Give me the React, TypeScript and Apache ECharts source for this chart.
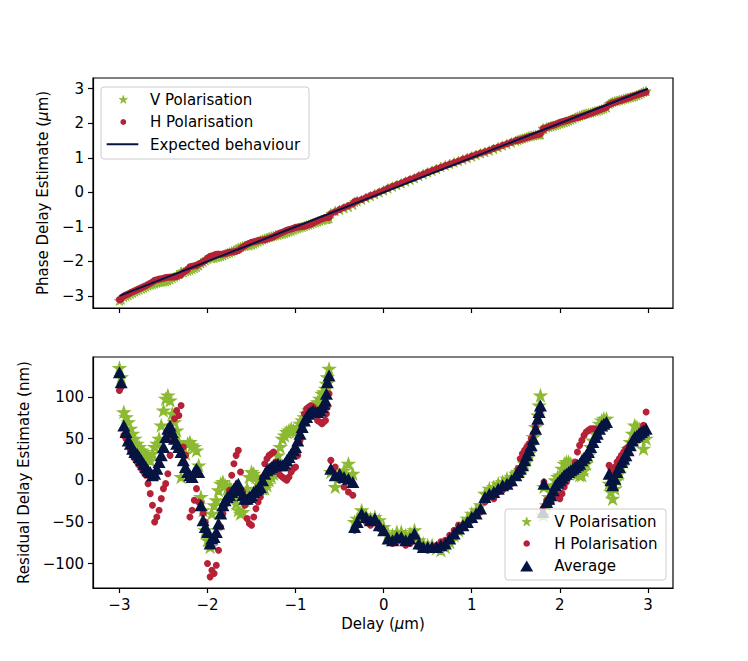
import React, { useEffect, useRef } from "react";
import * as echarts from "echarts";

// ---- Data ----
const delays = [
  -3.0, -2.98, -2.95, -2.925, -2.9, -2.875, -2.85, -2.825, -2.8, -2.775,
  -2.75, -2.725, -2.7, -2.675, -2.65, -2.625, -2.6, -2.575, -2.55, -2.525,
  -2.5, -2.475, -2.45, -2.425, -2.4, -2.375, -2.35, -2.325, -2.3, -2.275,
  -2.25, -2.225, -2.2, -2.175, -2.15, -2.125, -2.1, -2.075, -2.05, -2.025,
  -2.0, -1.97, -1.95, -1.925, -1.9, -1.875, -1.85, -1.825, -1.8, -1.775,
  -1.75, -1.725, -1.7, -1.675, -1.65, -1.625, -1.6, -1.575, -1.55, -1.525,
  -1.5, -1.475, -1.45, -1.425, -1.4, -1.375, -1.35, -1.325, -1.3, -1.275,
  -1.25, -1.225, -1.2, -1.175, -1.15, -1.125, -1.1, -1.075, -1.05, -1.025,
  -1.0, -0.975, -0.95, -0.925, -0.9, -0.875, -0.85, -0.825, -0.8, -0.775,
  -0.75, -0.725, -0.7, -0.68, -0.66, -0.65, -0.64, -0.62, -0.6, -0.55,
  -0.5, -0.45, -0.4, -0.35, -0.33, -0.3, -0.25, -0.2, -0.15, -0.1,
  -0.05, 0.0, 0.05, 0.1, 0.15, 0.2, 0.25, 0.3, 0.35, 0.4,
  0.45, 0.5, 0.55, 0.6, 0.65, 0.7, 0.75, 0.8, 0.85, 0.9,
  0.95, 1.0, 1.05, 1.1, 1.15, 1.2, 1.25, 1.3, 1.35, 1.4,
  1.45, 1.5, 1.525, 1.55, 1.575, 1.6, 1.625, 1.65, 1.675, 1.7,
  1.725, 1.75, 1.765, 1.78, 1.81, 1.82, 1.85, 1.875, 1.9, 1.925,
  1.95, 1.975, 2.0, 2.025, 2.05, 2.075, 2.1, 2.125, 2.15, 2.175,
  2.2, 2.225, 2.25, 2.275, 2.3, 2.325, 2.35, 2.375, 2.4, 2.425,
  2.45, 2.475, 2.5, 2.53, 2.56, 2.58, 2.6, 2.625, 2.65, 2.675,
  2.7, 2.725, 2.75, 2.775, 2.8, 2.825, 2.85, 2.875, 2.9, 2.925,
  2.95, 2.98,
];

const avgResidual = [
  130, 118, 66, 58, 48, 44, 38, 34, 32, 28,
  24, 20, 16, 12, 10, 6, 8, 14, 22, 30,
  40, 52, 62, 66, 58, 50, 44, 40, 34, 24,
  16, 10, 6, 4, 10, 14, 10, -30, -48, -56,
  -62, -76, -70, -68, -62, -52, -40, -30, -24, -20,
  -18, -14, -10, -6, -4, -12, -18, -22, -22, -20,
  -18, -14, -12, -10, -8, 0, 8, 12, 14, 16,
  18, 18, 20, 18, 18, 20, 24, 28, 32, 36,
  40, 48, 56, 64, 72, 76, 80, 82, 84, 82,
  82, 84, 88, 92, 96, 104, 118, 126, 14, 6,
  8, 4, 2, -2, -56, -50, -40, -44, -48, -46,
  -54, -60, -70, -72, -68, -68, -72, -70, -64, -76,
  -80, -80, -80, -80, -78, -76, -70, -64, -58, -54,
  -50, -44, -40, -34, -20, -16, -14, -10, -6, -4,
  0, 6, 10, 14, 18, 24, 30, 36, 42, 50,
  62, 74, 82, 90, -38, -4, -26, -22, -18, -12,
  -6, -3, 0, 3, 6, 8, 10, 12, 14, 16,
  18, 20, 24, 27, 30, 34, 40, 46, 52, 56,
  62, 66, 68, 70, 8, 0, -6, 2, 10, 16,
  22, 26, 30, 36, 42, 48, 52, 54, 56, 58,
  60, 62,
];

const vResidual = [
  135, 124, 82, 76, 70, 62, 56, 50, 44, 40,
  36, 34, 30, 26, 24, 32, 40, 44, 50, 66,
  84, 98, 102, 96, 80, 70, 60, 46, 4, 40,
  32, 44, 46, 42, 40, 36, 18, -20, -36, -60,
  -72, -80, -40, -30, -24, -12, -4, -2, -6, -10,
  -8, -12, -20, -28, -36, -40, -38, -24, -10, 4,
  10, 8, 4, 0, -6, -10, -10, -6, 0, 4,
  8, 18, 30, 40, 50, 54, 58, 60, 62, 60,
  58, 64, 68, 72, 76, 80, 84, 84, 86, 90,
  94, 98, 104, 106, 110, 116, 124, 134, 10, -8,
  4, 12, 20, 8, -50, -46, -36, -42, -46, -44,
  -48, -56, -64, -66, -62, -62, -66, -64, -60, -72,
  -76, -78, -78, -82, -84, -80, -74, -66, -60, -52,
  -46, -40, -36, -30, -16, -10, -8, -4, -2, 2,
  4, 8, 10, 12, 16, 20, 26, 32, 42, 52,
  64, 78, 90, 102, -42, -8, -30, -20, -12, -6,
  0, 4, 6, 14, 20, 22, 22, 20, 18, 12,
  8, 6, 6, 12, 20, 30, 40, 48, 56, 62,
  68, 72, 74, 74, -4, -14, -22, -10, 0, 8,
  16, 22, 30, 38, 46, 56, 66, 64, 62, 50,
  38, 50,
];

const hResidual = [
  108, 112, 54, 50, 44, 36, 30, 26, 22, 18,
  14, 10, 6, -4, -16, -30, -50, -44, -36, -22,
  -10, -4, 8, 30, 50, 74, 84, 78, 90, 40,
  30, 6, -44, -36, -24, -10, -26, -28, -40, -50,
  -100, -116, -108, -112, -102, -84, -56, -40, -30, -22,
  -12, 6, 20, 30, 36, 10, -14, -30, -46, -52,
  -54, -44, -34, -26, -20, 4, 20, 26, 30, 32,
  34, 22, 10, 6, 4, 2, 0, 4, 10, 14,
  16, 30, 48, 64, 80, 86, 88, 90, 88, 80,
  72, 70, 68, 70, 72, 80, 88, 104, 24, 16,
  0, -8, -14, -18, -60, -52, -44, -50, -54, -50,
  -58, -62, -72, -76, -74, -72, -78, -76, -68, -80,
  -82, -84, -82, -78, -74, -72, -66, -60, -54, -56,
  -52, -48, -42, -38, -26, -20, -22, -14, -12, -8,
  -4, 4, 14, 26, 32, 36, 40, 44, 50, 56,
  64, 72, 78, 84, -34, -2, -24, -26, -26, -20,
  -14, -18, -22, -16, -8, -2, 4, 8, 10, 22,
  34, 42, 48, 54, 58, 60, 62, 62, 62, 60,
  58, 62, 66, 68, 18, 14, 10, 16, 22, 26,
  30, 34, 38, 40, 44, 46, 48, 52, 56, 60,
  66, 82,
];

const expectedX = [-3, 3];
const xTicks = [-3, -2, -1, 0, 1, 2, 3];
const phaseTicks = [-3, -2, -1, 0, 1, 2, 3];
const residualTicks = [-100, -50, 0, 50, 100];

// ---- Styles ----
const GREEN = "#8cba32";
const RED = "#b52238";
const NAVY = "#061442";
const FONT = "DejaVu Sans";
const FS = 15;

const STAR =
  "path://M0,-1L0.2245,-0.309L0.9511,-0.309L0.3633,0.118L0.5878,0.809L0,0.382L-0.5878,0.809L-0.3633,0.118L-0.9511,-0.309L-0.2245,-0.309Z";

function starPoints(cx: number, cy: number, r: number): number[][] {
  const pts: number[][] = [];
  for (let k = 0; k < 10; k++) {
    const ang = ((90 + k * 36) * Math.PI) / 180;
    const rr = k % 2 === 0 ? r : r * 0.382;
    pts.push([cx + rr * Math.cos(ang), cy - rr * Math.sin(ang)]);
  }
  return pts;
}

const minus = (v: number) => String(v).replace("-", "\u2212");

function legendText(x: number, y: number, text: string) {
  return {
    type: "text",
    x,
    y,
    z: 101,
    style: {
      text,
      fill: "#000",
      fontSize: FS,
      fontFamily: FONT,
      align: "left",
      verticalAlign: "middle",
    },
  };
}

export default function App() {
  const ref = useRef<HTMLDivElement>(null);

  useEffect(() => {
    if (!ref.current) return;
    const chart = echarts.init(ref.current, undefined, { renderer: "svg" });

    const vTop = delays.map((d, i) => [d, d - vResidual[i] / 1000]);
    const hTop = delays.map((d, i) => [d, d - hResidual[i] / 1000]);
    const vBot = delays.map((d, i) => [d, vResidual[i]]);
    const hBot = delays.map((d, i) => [d, hResidual[i]]);
    const aBot = delays.map((d, i) => [d, avgResidual[i]]);

    const axisCommon = {
      type: "value",
      splitLine: { show: false },
      axisLine: { show: true, onZero: false, lineStyle: { color: "#000", width: 1.2 } },
      axisTick: { show: true, length: 5, lineStyle: { color: "#000", width: 1.2 } },
    };

    const labelCommon = {
      color: "#000",
      fontSize: FS,
      fontFamily: FONT,
      margin: 9,
      formatter: minus,
    };

    const gridBase = {
      left: 93,
      width: 580,
      show: true,
      borderColor: "#000",
      borderWidth: 1.2,
      backgroundColor: "transparent",
    };

    const italicRich = {
      i: { fontStyle: "italic", fontSize: FS, fontFamily: FONT, color: "#000" },
    };

    chart.setOption({
      animation: false,
      textStyle: { fontFamily: FONT },
      grid: [
        { ...gridBase, top: 78, height: 230 },
        { ...gridBase, top: 357, height: 231 },
      ],
      xAxis: [
        {
          ...axisCommon,
          gridIndex: 0,
          min: -3.3,
          max: 3.285,
          axisTick: { ...axisCommon.axisTick, customValues: xTicks },
          axisLabel: { show: false, customValues: xTicks },
        },
        {
          ...axisCommon,
          gridIndex: 1,
          min: -3.3,
          max: 3.285,
          axisTick: { ...axisCommon.axisTick, customValues: xTicks },
          axisLabel: { ...labelCommon, customValues: xTicks },
          name: "Delay ({i|\u03bc}m)",
          nameLocation: "middle",
          nameGap: 28,
          nameTextStyle: { color: "#000", fontSize: FS, fontFamily: FONT, rich: italicRich },
        },
      ],
      yAxis: [
        {
          ...axisCommon,
          gridIndex: 0,
          min: -3.35,
          max: 3.31,
          axisTick: { ...axisCommon.axisTick, customValues: phaseTicks },
          axisLabel: { ...labelCommon, customValues: phaseTicks },
          name: "Phase Delay Estimate ({i|\u03bc}m)",
          nameLocation: "middle",
          nameRotate: 90,
          nameGap: 39,
          nameTextStyle: { color: "#000", fontSize: FS, fontFamily: FONT, rich: italicRich },
        },
        {
          ...axisCommon,
          gridIndex: 1,
          min: -129.4,
          max: 148.2,
          axisTick: { ...axisCommon.axisTick, customValues: residualTicks },
          axisLabel: { ...labelCommon, customValues: residualTicks },
          name: "Residual Delay Estimate (nm)",
          nameLocation: "middle",
          nameRotate: 90,
          nameGap: 55,
          nameTextStyle: { color: "#000", fontSize: FS, fontFamily: FONT },
        },
      ],
      series: [
        {
          name: "V Polarisation",
          type: "scatter",
          xAxisIndex: 0,
          yAxisIndex: 0,
          symbol: STAR,
          symbolKeepAspect: true,
          symbolSize: 10,
          itemStyle: { color: GREEN, opacity: 1, borderColor: GREEN, borderWidth: 1 },
          data: vTop,
        },
        {
          name: "H Polarisation",
          type: "scatter",
          xAxisIndex: 0,
          yAxisIndex: 0,
          symbol: "circle",
          symbolSize: 7,
          itemStyle: { color: RED, opacity: 1 },
          data: hTop,
        },
        {
          name: "Expected behaviour",
          type: "line",
          xAxisIndex: 0,
          yAxisIndex: 0,
          symbol: "none",
          lineStyle: { color: NAVY, width: 2 },
          data: expectedX.map((x) => [x, x]),
        },
        {
          name: "V Polarisation (residual)",
          type: "scatter",
          xAxisIndex: 1,
          yAxisIndex: 1,
          symbol: STAR,
          symbolKeepAspect: true,
          symbolSize: 12,
          itemStyle: { color: GREEN, opacity: 1, borderColor: GREEN, borderWidth: 1.2 },
          data: vBot,
        },
        {
          name: "H Polarisation (residual)",
          type: "scatter",
          xAxisIndex: 1,
          yAxisIndex: 1,
          symbol: "circle",
          symbolSize: 7,
          itemStyle: { color: RED, opacity: 1 },
          data: hBot,
        },
        {
          name: "Average",
          type: "scatter",
          xAxisIndex: 1,
          yAxisIndex: 1,
          symbol: "triangle",
          symbolSize: [13, 12],
          itemStyle: { color: NAVY, opacity: 1 },
          data: aBot,
        },
      ],
      graphic: [
        // top legend
        {
          type: "rect",
          z: 100,
          shape: { x: 101, y: 87, width: 208, height: 72, r: 3 },
          style: { fill: "rgba(255,255,255,0.8)", stroke: "#cccccc", lineWidth: 1 },
        },
        {
          type: "polygon",
          z: 101,
          shape: { points: starPoints(123.3, 99.8, 4.3) },
          style: { fill: GREEN, stroke: GREEN, lineWidth: 0.8 },
        },
        { type: "circle", z: 101, shape: { cx: 123.3, cy: 122, r: 2.9 }, style: { fill: RED } },
        {
          type: "line",
          z: 101,
          shape: { x1: 106.7, y1: 144.3, x2: 138.3, y2: 144.3 },
          style: { stroke: NAVY, lineWidth: 2 },
        },
        legendText(150, 100, "V Polarisation"),
        legendText(150, 122, "H Polarisation"),
        legendText(150, 144.5, "Expected behaviour"),
        // bottom legend
        {
          type: "rect",
          z: 100,
          shape: { x: 505, y: 509, width: 161, height: 71, r: 3 },
          style: { fill: "rgba(255,255,255,0.8)", stroke: "#cccccc", lineWidth: 1 },
        },
        {
          type: "polygon",
          z: 101,
          shape: { points: starPoints(526.7, 522, 4.8) },
          style: { fill: GREEN, stroke: GREEN, lineWidth: 0.8 },
        },
        { type: "circle", z: 101, shape: { cx: 526.7, cy: 543.5, r: 3.3 }, style: { fill: RED } },
        {
          type: "polygon",
          z: 101,
          shape: { points: [[526.7, 560.5], [533.2, 571.5], [520.2, 571.5]] },
          style: { fill: NAVY },
        },
        legendText(554.3, 522, "V Polarisation"),
        legendText(554.3, 543.8, "H Polarisation"),
        legendText(554.3, 566, "Average"),
      ],
    });

    return () => chart.dispose();
  }, []);

  return (
    <div
      ref={ref}
      style={{ position: "fixed", left: 0, top: 0, width: 748, height: 661, background: "#fff" }}
    />
  );
}
